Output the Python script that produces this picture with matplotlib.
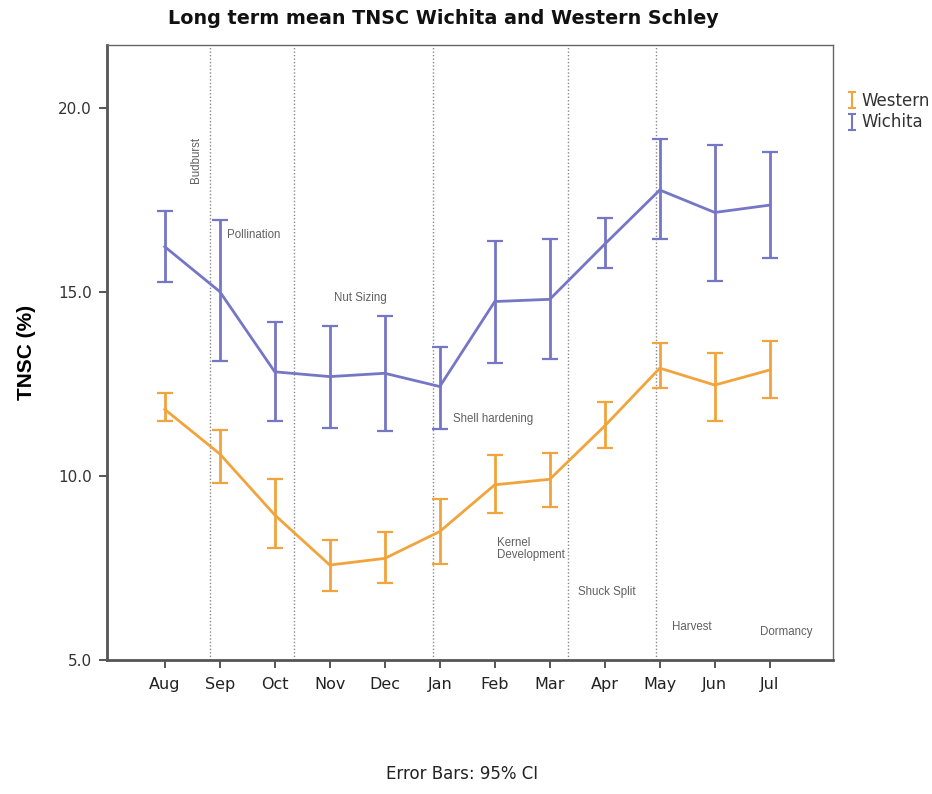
import matplotlib
matplotlib.use("Agg")
import matplotlib.pyplot as plt
import numpy as np
from matplotlib.lines import Line2D
from matplotlib.path import Path

plt.rcParams['font.family'] = ['DejaVu Sans']

months = ["Aug", "Sep", "Oct", "Nov", "Dec", "Jan", "Feb", "Mar", "Apr", "May", "Jun", "Jul"]

wichita_mean = [16.23, 15.01, 12.83, 12.70, 12.79, 12.43, 14.74, 14.80, 16.30, 17.77, 17.16, 17.36]
wichita_lo = [15.26, 13.12, 11.48, 11.30, 11.23, 11.27, 13.08, 13.19, 15.66, 16.44, 15.30, 15.93]
wichita_hi = [17.21, 16.96, 14.19, 14.08, 14.35, 13.51, 16.39, 16.43, 17.00, 19.15, 18.99, 18.81]

western_mean = [11.81, 10.60, 8.94, 7.58, 7.76, 8.49, 9.76, 9.91, 11.36, 12.93, 12.47, 12.88]
western_lo = [11.50, 9.80, 8.03, 6.88, 7.08, 7.60, 8.99, 9.17, 10.75, 12.38, 11.48, 12.11]
western_hi = [12.26, 11.25, 9.92, 8.26, 8.49, 9.37, 10.57, 10.62, 12.00, 13.62, 13.35, 13.68]

y_ticks = [5.0, 10.0, 15.0, 20.0]

# phenological stage boundaries (in month-index units)
stage_breaks = [0.83, 2.35, 4.87, 7.33, 8.93]

c_wichita = "#7676c6"
c_western = "#f2a43c"

fig = plt.figure(figsize=(9.32, 7.94), dpi=100)
ax = fig.add_axes([0.1148, 0.1688, 0.779, 0.7745])

x = np.arange(len(months))

def draw(mean, lo, hi, color):
    mean = np.array(mean)
    err = np.vstack([mean - np.array(lo), np.array(hi) - mean])
    ax.errorbar(x, mean, yerr=err, color=color, lw=2.0, elinewidth=2.0,
                capsize=5.5, capthick=1.6, zorder=3)

draw(western_mean, western_lo, western_hi, c_western)
draw(wichita_mean, wichita_lo, wichita_hi, c_wichita)

for xb in stage_breaks:
    ax.axvline(xb, color="#8a8a8a", lw=1.0, ls=(0, (1, 1.5)), zorder=1)

ax.set_xlim(-1.05, 12.15)
ax.set_ylim(5.0, 21.71)
ax.set_xticks(x)
ax.set_xticklabels(months, fontsize=11.5)
ax.set_yticks(y_ticks)
ax.set_yticklabels([f"{v:.1f}" for v in y_ticks], fontsize=11, color="#333333")
ax.tick_params(axis="both", direction="out", length=6, width=1.4, color="#555555")
ax.tick_params(axis="x", pad=6, labelcolor="#222222")
ax.tick_params(axis="y", pad=5)

for side in ["left", "bottom"]:
    ax.spines[side].set_linewidth(2.0)
    ax.spines[side].set_color("#555555")
for side in ["top", "right"]:
    ax.spines[side].set_linewidth(1.0)
    ax.spines[side].set_color("#666666")

ax.set_ylabel("TNSC (%)", fontsize=15, fontweight="bold", labelpad=16,
              family=["Liberation Sans", "DejaVu Sans"])
fig.text(0.476, 0.977, "Long term mean TNSC Wichita and Western Schley",
         fontsize=13.8, fontweight="bold", ha="center", va="center",
         color="#111111")

# stage annotations
ann_kw = dict(fontsize=8.3, color="#606060", zorder=4,
              family=["Liberation Sans", "DejaVu Sans"])
ax.text(0.56, 18.6, "Budburst", rotation=90, ha="center", va="center", **ann_kw)
ax.text(1.13, 16.55, "Pollination", ha="left", va="center", **ann_kw)
ax.text(3.08, 14.84, "Nut Sizing", ha="left", va="center", **ann_kw)
ax.text(5.24, 11.55, "Shell hardening", ha="left", va="center", **ann_kw)
ax.text(6.04, 8.02, "Kernel\nDevelopment", ha="left", va="center",
        linespacing=1.05, **ann_kw)
ax.text(7.51, 6.85, "Shuck Split", ha="left", va="center", **ann_kw)
ax.text(9.22, 5.9, "Harvest", ha="left", va="center", **ann_kw)
ax.text(10.82, 5.76, "Dormancy", ha="left", va="center", **ann_kw)

# legend outside the plot frame, with small error-bar glyphs as handles
ibar = Path([(-0.5, 1), (0.5, 1), (0, 1), (0, -1), (-0.5, -1), (0.5, -1)],
            [Path.MOVETO, Path.LINETO, Path.MOVETO, Path.LINETO,
             Path.MOVETO, Path.LINETO])
handles = [Line2D([], [], color=c_western, marker=ibar, ls="none",
                  markersize=11, markeredgewidth=1.5, fillstyle="none"),
           Line2D([], [], color=c_wichita, marker=ibar, ls="none",
                  markersize=11, markeredgewidth=1.5, fillstyle="none")]
fig.legend(handles, ["Western", "Wichita"], loc="upper left",
           bbox_to_anchor=(0.891, 0.903), frameon=False, fontsize=12,
           handletextpad=0.15, labelspacing=0.2, handlelength=0.8,
           labelcolor="#333333")

fig.text(0.496, 0.014, "Error Bars: 95% CI", ha="center", va="bottom",
         fontsize=12, color="#222222")

fig.savefig("out.png", dpi=100)
